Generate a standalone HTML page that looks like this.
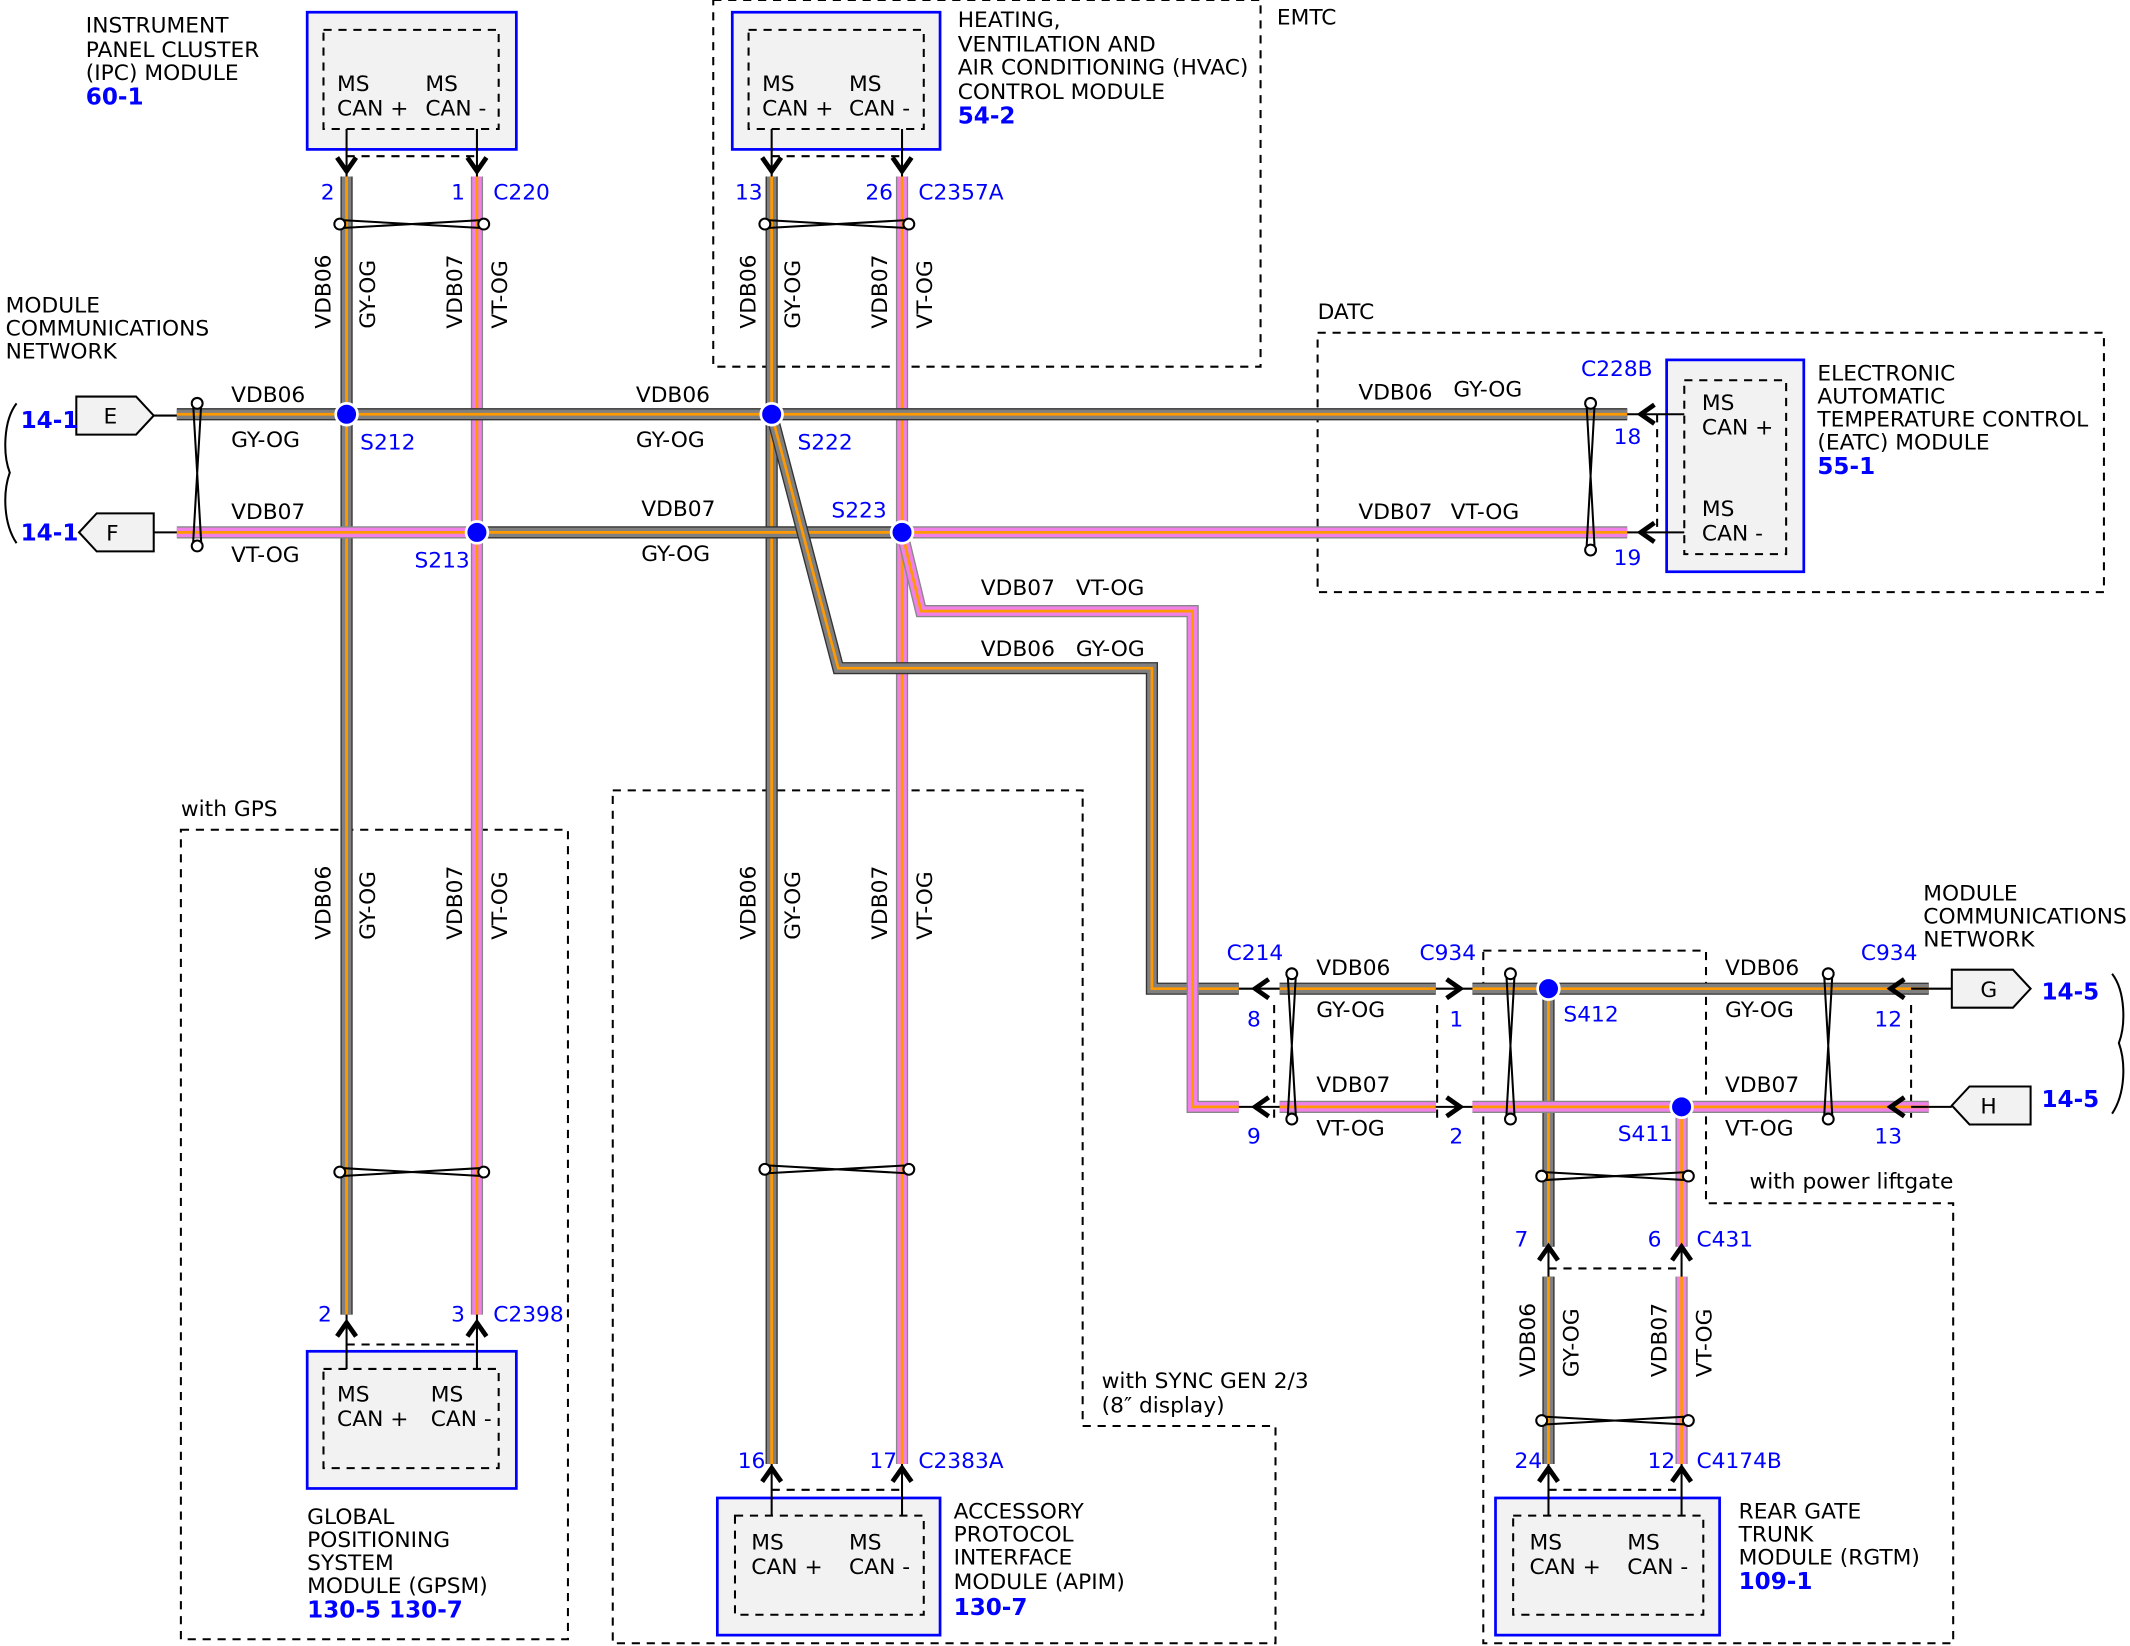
<!DOCTYPE html>
<html><head><meta charset="utf-8"><style>
html,body{margin:0;padding:0;background:#fff}
svg{display:block}
text{font-family:"DejaVu Sans","Liberation Sans",sans-serif;font-size:16px;fill:#000}
.b{fill:#0000ff}
.bb{fill:#0000ff;font-weight:bold;font-size:17px}
.go{fill:none;stroke:#333;stroke-width:9}
.gi{fill:none;stroke:#808080;stroke-width:7}
.po{fill:none;stroke:#888;stroke-width:9}
.pi{fill:none;stroke:#f080e8;stroke-width:7}
.st{fill:none;stroke:#ff9900;stroke-width:2}
.d{fill:none;stroke:#000;stroke-width:1.5;stroke-dasharray:6,5}
.mod{fill:#f2f2f2;stroke:#0000ff;stroke-width:2}
.in{fill:none;stroke:#000;stroke-width:1.5;stroke-dasharray:6,5}
.tw{fill:none;stroke:#000;stroke-width:1.5}
.tc{fill:#fff;stroke:#000;stroke-width:1.5}
.ch{fill:none;stroke:#000;stroke-width:3.5}
.ln{fill:none;stroke:#000;stroke-width:1.5}
.sp{fill:#0000ff;stroke:#fff;stroke-width:2}
</style></head><body>
<svg width="2130" height="1646" viewBox="0 0 1568 1212" xmlns="http://www.w3.org/2000/svg">
<defs>
<path id="g1" d="M255,130 V968"/>
<path id="g2" d="M130,305 H1198"/>
<path id="g3" d="M568,130 V1078"/>
<path id="g4" d="M568,305 L617,492 H848 V728 H912"/>
<path id="g5" d="M942,728 H1057"/>
<path id="g6" d="M1084,728 H1420"/>
<path id="g7" d="M1140,728 V918"/>
<path id="g8" d="M1140,940 V1078"/>
<path id="g9" d="M351,392 H664"/>
<path id="p1" d="M351,130 V968"/>
<path id="p2" d="M130,392 H351"/>
<path id="p3" d="M664,392 H1198"/>
<path id="p4" d="M664,130 V1078"/>
<path id="p5" d="M664,392 L678,450 H878 V815 H912"/>
<path id="p6" d="M942,815 H1057"/>
<path id="p7" d="M1084,815 H1420"/>
<path id="p8" d="M1238,815 V918"/>
<path id="p9" d="M1238,940 V1078"/>
</defs>

<!-- dashed regions -->
<rect class="d" x="525" y="0" width="403" height="270"/>
<rect class="d" x="970" y="245" width="579" height="191"/>
<rect class="d" x="133" y="611" width="285" height="596"/>
<path class="d" d="M451,582 H797 V1050 H939 V1210 H451 Z"/>
<path class="d" d="M1092,700 H1256 V886 H1438 V1210 H1092 Z"/>
<path class="d" d="M938,740 V828 M1058,740 V828 M1407,740 V828"/>
<path class="d" d="M1220,305 V392"/>
<path class="d" d="M255,115 H351 M568,115 H664 M255,990 H351 M568,1097 H664 M1140,934 H1238 M1140,1097 H1238"/>

<g>
<use href="#g1" class="go"/><use href="#g1" class="gi"/><use href="#g1" class="st"/>
<use href="#g3" class="go"/><use href="#g3" class="gi"/><use href="#g3" class="st"/>
<use href="#p1" class="po"/><use href="#p1" class="pi"/><use href="#p1" class="st"/>
<use href="#p4" class="po"/><use href="#p4" class="pi"/><use href="#p4" class="st"/>
<use href="#g2" class="go"/><use href="#g2" class="gi"/><use href="#g2" class="st"/>
<use href="#p2" class="po"/><use href="#p2" class="pi"/><use href="#p2" class="st"/>
<use href="#g9" class="go"/><use href="#g9" class="gi"/><use href="#g9" class="st"/>
<use href="#p3" class="po"/><use href="#p3" class="pi"/><use href="#p3" class="st"/>
<use href="#g4" class="go"/><use href="#g4" class="gi"/><use href="#g4" class="st"/>
<use href="#p5" class="po"/><use href="#p5" class="pi"/><use href="#p5" class="st"/>
<use href="#g5" class="go"/><use href="#g5" class="gi"/><use href="#g5" class="st"/>
<use href="#p6" class="po"/><use href="#p6" class="pi"/><use href="#p6" class="st"/>
<use href="#g7" class="go"/><use href="#g7" class="gi"/><use href="#g7" class="st"/>
<use href="#g8" class="go"/><use href="#g8" class="gi"/><use href="#g8" class="st"/>
<use href="#g6" class="go"/><use href="#g6" class="gi"/><use href="#g6" class="st"/>
<use href="#p7" class="po"/><use href="#p7" class="pi"/><use href="#p7" class="st"/>
<use href="#p8" class="po"/><use href="#p8" class="pi"/><use href="#p8" class="st"/>
<use href="#p9" class="po"/><use href="#p9" class="pi"/><use href="#p9" class="st"/>
</g>

<rect class="mod" x="226" y="9" width="154" height="101"/><rect class="in" x="238" y="22" width="129" height="73"/>
<rect class="mod" x="539" y="9" width="153" height="101"/><rect class="in" x="551" y="22" width="129" height="73"/>
<rect class="mod" x="1227" y="265" width="101" height="156"/><rect class="in" x="1240" y="280" width="75" height="128"/>
<rect class="mod" x="226" y="995" width="154" height="101"/><rect class="in" x="238" y="1008" width="129" height="73"/>
<rect class="mod" x="528" y="1103" width="164" height="101"/><rect class="in" x="541" y="1116" width="139" height="73"/>
<rect class="mod" x="1101" y="1103" width="165" height="101"/><rect class="in" x="1114" y="1116" width="140" height="73"/>

<g class="ln">
<path d="M255,95 V130 M351,95 V130 M568,95 V130 M664,95 V130"/>
<path d="M255,968 V1008 M351,968 V1008 M568,1078 V1116 M664,1078 V1116 M1140,1078 V1116 M1238,1078 V1116 M1140,918 V940 M1238,918 V940"/>
<path d="M1198,305 H1240 M1198,392 H1240 M912,728 H942 M912,815 H942 M1057,728 H1084 M1057,815 H1084 M1407,728 H1420 M1407,815 H1420"/>
</g>
<g class="ch">
<path d="M248,116 L255,126 L262,116 M344,116 L351,126 L358,116 M561,116 L568,126 L575,116 M657,116 L664,126 L671,116"/>
<path d="M248,984 L255,974 L262,984 M344,984 L351,974 L358,984 M561,1091 L568,1081 L575,1091 M657,1091 L664,1081 L671,1091"/>
<path d="M1133,1091 L1140,1081 L1147,1091 M1231,1091 L1238,1081 L1245,1091 M1133,928 L1140,918 L1147,928 M1231,928 L1238,918 L1245,928"/>
<path d="M1218,298 L1208,305 L1218,312 M1218,385 L1208,392 L1218,399"/>
<path d="M934,721 L924,728 L934,735 M934,808 L924,815 L934,822"/>
<path d="M1065,721 L1075,728 L1065,735 M1065,808 L1075,815 L1065,822"/>
<path d="M1402,721 L1392,728 L1402,735 M1402,808 L1392,815 L1402,822"/>
</g>

<g>
<path class="tw" d="M250,162 L356,168 M250,168 L356,162"/><circle class="tc" cx="250" cy="165" r="4"/><circle class="tc" cx="356" cy="165" r="4"/>
<path class="tw" d="M563,162 L669,168 M563,168 L669,162"/><circle class="tc" cx="563" cy="165" r="4"/><circle class="tc" cx="669" cy="165" r="4"/>
<path class="tw" d="M250,860 L356,866 M250,866 L356,860"/><circle class="tc" cx="250" cy="863" r="4"/><circle class="tc" cx="356" cy="863" r="4"/>
<path class="tw" d="M563,858 L669,864 M563,864 L669,858"/><circle class="tc" cx="563" cy="861" r="4"/><circle class="tc" cx="669" cy="861" r="4"/>
<path class="tw" d="M1135,863 L1243,869 M1135,869 L1243,863"/><circle class="tc" cx="1135" cy="866" r="4"/><circle class="tc" cx="1243" cy="866" r="4"/>
<path class="tw" d="M1135,1043 L1243,1049 M1135,1049 L1243,1043"/><circle class="tc" cx="1135" cy="1046" r="4"/><circle class="tc" cx="1243" cy="1046" r="4"/>
<path class="tw" d="M142,297 L148,400 M148,297 L142,400"/><circle class="tc" cx="145" cy="297" r="4"/><circle class="tc" cx="145" cy="402" r="4"/>
<path class="tw" d="M1168,297 L1174,404 M1174,297 L1168,404"/><circle class="tc" cx="1171" cy="297" r="4"/><circle class="tc" cx="1171" cy="405" r="4"/>
<path class="tw" d="M948,718 L954,822 M954,718 L948,822"/><circle class="tc" cx="951" cy="717" r="4"/><circle class="tc" cx="951" cy="824" r="4"/>
<path class="tw" d="M1109,718 L1115,822 M1115,718 L1109,822"/><circle class="tc" cx="1112" cy="717" r="4"/><circle class="tc" cx="1112" cy="824" r="4"/>
<path class="tw" d="M1343,718 L1349,822 M1349,718 L1343,822"/><circle class="tc" cx="1346" cy="717" r="4"/><circle class="tc" cx="1346" cy="824" r="4"/>
</g>

<circle class="sp" cx="255" cy="305" r="8"/>
<circle class="sp" cx="351" cy="392" r="8"/>
<circle class="sp" cx="568" cy="305" r="8"/>
<circle class="sp" cx="664" cy="392" r="8"/>
<circle class="sp" cx="1140" cy="728" r="8"/>
<circle class="sp" cx="1238" cy="815" r="8"/>

<g fill="#f2f2f2" stroke="#000" stroke-width="1.5">
<path d="M56,292 H100 L113,306 L100,320 H56 Z"/>
<path d="M113,378 H71 L58,392 L71,406 H113 Z"/>
<path d="M1437,714 H1482 L1495,728 L1482,742 H1437 Z"/>
<path d="M1495,800 H1450 L1437,814 L1450,828 H1495 Z"/>
</g>
<path class="ln" d="M113,306 H130 M113,392 H130 M1420,728 H1437 M1420,815 H1437"/>
<path class="ln" d="M12,297 C2,310 2,335 7,348 C2,362 2,385 12,400"/>
<path class="ln" d="M1555,717 C1565,730 1565,755 1560,768 C1565,782 1565,805 1555,820"/>
<text x="76" y="312">E</text><text x="78" y="398">F</text>
<text x="1458" y="734">G</text><text x="1458" y="820">H</text>

<text x="248" y="67">MS</text><text x="248" y="85">CAN +</text><text x="313" y="67">MS</text><text x="313" y="85">CAN -</text>
<text x="561" y="67">MS</text><text x="561" y="85">CAN +</text><text x="625" y="67">MS</text><text x="625" y="85">CAN -</text>
<text x="248" y="1032">MS</text><text x="248" y="1050">CAN +</text><text x="317" y="1032">MS</text><text x="317" y="1050">CAN -</text>
<text x="553" y="1141">MS</text><text x="553" y="1159">CAN +</text><text x="625" y="1141">MS</text><text x="625" y="1159">CAN -</text>
<text x="1126" y="1141">MS</text><text x="1126" y="1159">CAN +</text><text x="1198" y="1141">MS</text><text x="1198" y="1159">CAN -</text>
<text x="1253" y="302">MS</text><text x="1253" y="320">CAN +</text><text x="1253" y="380">MS</text><text x="1253" y="398">CAN -</text>

<text x="63" y="24">INSTRUMENT</text><text x="63" y="42">PANEL CLUSTER</text><text x="63" y="59">(IPC) MODULE</text><text class="bb" x="63" y="77">60-1</text>
<text x="705" y="20">HEATING,</text><text x="705" y="38">VENTILATION AND</text><text x="705" y="55">AIR CONDITIONING (HVAC)</text><text x="705" y="73">CONTROL MODULE</text><text class="bb" x="705" y="91">54-2</text>
<text x="940" y="18">EMTC</text>
<text x="970" y="235">DATC</text>
<text x="1338" y="280">ELECTRONIC</text><text x="1338" y="297">AUTOMATIC</text><text x="1338" y="314">TEMPERATURE CONTROL</text><text x="1338" y="331">(EATC) MODULE</text><text class="bb" x="1338" y="349">55-1</text>
<text x="4" y="230">MODULE</text><text x="4" y="247">COMMUNICATIONS</text><text x="4" y="264">NETWORK</text>
<text x="1416" y="663">MODULE</text><text x="1416" y="680">COMMUNICATIONS</text><text x="1416" y="697">NETWORK</text>
<text class="bb" x="15" y="315">14-1</text><text class="bb" x="15" y="398">14-1</text>
<text class="bb" x="1503" y="736">14-5</text><text class="bb" x="1503" y="815">14-5</text>
<text x="133" y="601">with GPS</text>
<text x="226" y="1122">GLOBAL</text><text x="226" y="1139">POSITIONING</text><text x="226" y="1156">SYSTEM</text><text x="226" y="1173">MODULE (GPSM)</text><text class="bb" x="226" y="1191">130-5 130-7</text>
<text x="702" y="1118">ACCESSORY</text><text x="702" y="1135">PROTOCOL</text><text x="702" y="1152">INTERFACE</text><text x="702" y="1170">MODULE (APIM)</text><text class="bb" x="702" y="1189">130-7</text>
<text x="811" y="1022">with SYNC GEN 2/3</text><text x="811" y="1040">(8″ display)</text>
<text x="1288" y="875">with power liftgate</text>
<text x="1280" y="1118">REAR GATE</text><text x="1280" y="1135">TRUNK</text><text x="1280" y="1152">MODULE (RGTM)</text><text class="bb" x="1280" y="1170">109-1</text>

<text x="170" y="296">VDB06</text><text x="170" y="329">GY-OG</text>
<text x="170" y="382">VDB07</text><text x="170" y="414">VT-OG</text>
<text x="468" y="296">VDB06</text><text x="468" y="329">GY-OG</text>
<text x="472" y="380">VDB07</text><text x="472" y="413">GY-OG</text>
<text x="1000" y="294">VDB06</text><text x="1070" y="292">GY-OG</text>
<text x="1000" y="382">VDB07</text><text x="1068" y="382">VT-OG</text>
<text x="722" y="438">VDB07</text><text x="792" y="438">VT-OG</text>
<text x="722" y="483">VDB06</text><text x="792" y="483">GY-OG</text>
<text x="969" y="718">VDB06</text><text x="969" y="749">GY-OG</text>
<text x="969" y="804">VDB07</text><text x="969" y="836">VT-OG</text>
<text x="1270" y="718">VDB06</text><text x="1270" y="749">GY-OG</text>
<text x="1270" y="804">VDB07</text><text x="1270" y="836">VT-OG</text>

<g>
<text transform="translate(243,242) rotate(-90)">VDB06</text><text transform="translate(276,242) rotate(-90)">GY-OG</text>
<text transform="translate(340,242) rotate(-90)">VDB07</text><text transform="translate(373,242) rotate(-90)">VT-OG</text>
<text transform="translate(556,242) rotate(-90)">VDB06</text><text transform="translate(589,242) rotate(-90)">GY-OG</text>
<text transform="translate(653,242) rotate(-90)">VDB07</text><text transform="translate(686,242) rotate(-90)">VT-OG</text>
<text transform="translate(243,692) rotate(-90)">VDB06</text><text transform="translate(276,692) rotate(-90)">GY-OG</text>
<text transform="translate(340,692) rotate(-90)">VDB07</text><text transform="translate(373,692) rotate(-90)">VT-OG</text>
<text transform="translate(556,692) rotate(-90)">VDB06</text><text transform="translate(589,692) rotate(-90)">GY-OG</text>
<text transform="translate(653,692) rotate(-90)">VDB07</text><text transform="translate(686,692) rotate(-90)">VT-OG</text>
<text transform="translate(1130,1014) rotate(-90)">VDB06</text><text transform="translate(1162,1014) rotate(-90)">GY-OG</text>
<text transform="translate(1227,1014) rotate(-90)">VDB07</text><text transform="translate(1260,1014) rotate(-90)">VT-OG</text>
</g>

<g>
<text class="b" x="236" y="147">2</text><text class="b" x="332" y="147">1</text><text class="b" x="363" y="147">C220</text>
<text class="b" x="541" y="147">13</text><text class="b" x="637" y="147">26</text><text class="b" x="676" y="147">C2357A</text>
<text class="b" x="265" y="331">S212</text><text class="b" x="305" y="418">S213</text>
<text class="b" x="587" y="331">S222</text><text class="b" x="612" y="381">S223</text>
<text class="b" x="1164" y="277">C228B</text><text class="b" x="1188" y="327">18</text><text class="b" x="1188" y="416">19</text>
<text class="b" x="903" y="707">C214</text><text class="b" x="1045" y="707">C934</text><text class="b" x="1370" y="707">C934</text>
<text class="b" x="918" y="756">8</text><text class="b" x="918" y="842">9</text>
<text class="b" x="1067" y="756">1</text><text class="b" x="1067" y="842">2</text>
<text class="b" x="1380" y="756">12</text><text class="b" x="1380" y="842">13</text>
<text class="b" x="1151" y="752">S412</text><text class="b" x="1191" y="840">S411</text>
<text class="b" x="1115" y="918">7</text><text class="b" x="1213" y="918">6</text><text class="b" x="1249" y="918">C431</text>
<text class="b" x="1115" y="1081">24</text><text class="b" x="1213" y="1081">12</text><text class="b" x="1249" y="1081">C4174B</text>
<text class="b" x="234" y="973">2</text><text class="b" x="332" y="973">3</text><text class="b" x="363" y="973">C2398</text>
<text class="b" x="543" y="1081">16</text><text class="b" x="640" y="1081">17</text><text class="b" x="676" y="1081">C2383A</text>
</g>
</svg>
</body></html>
